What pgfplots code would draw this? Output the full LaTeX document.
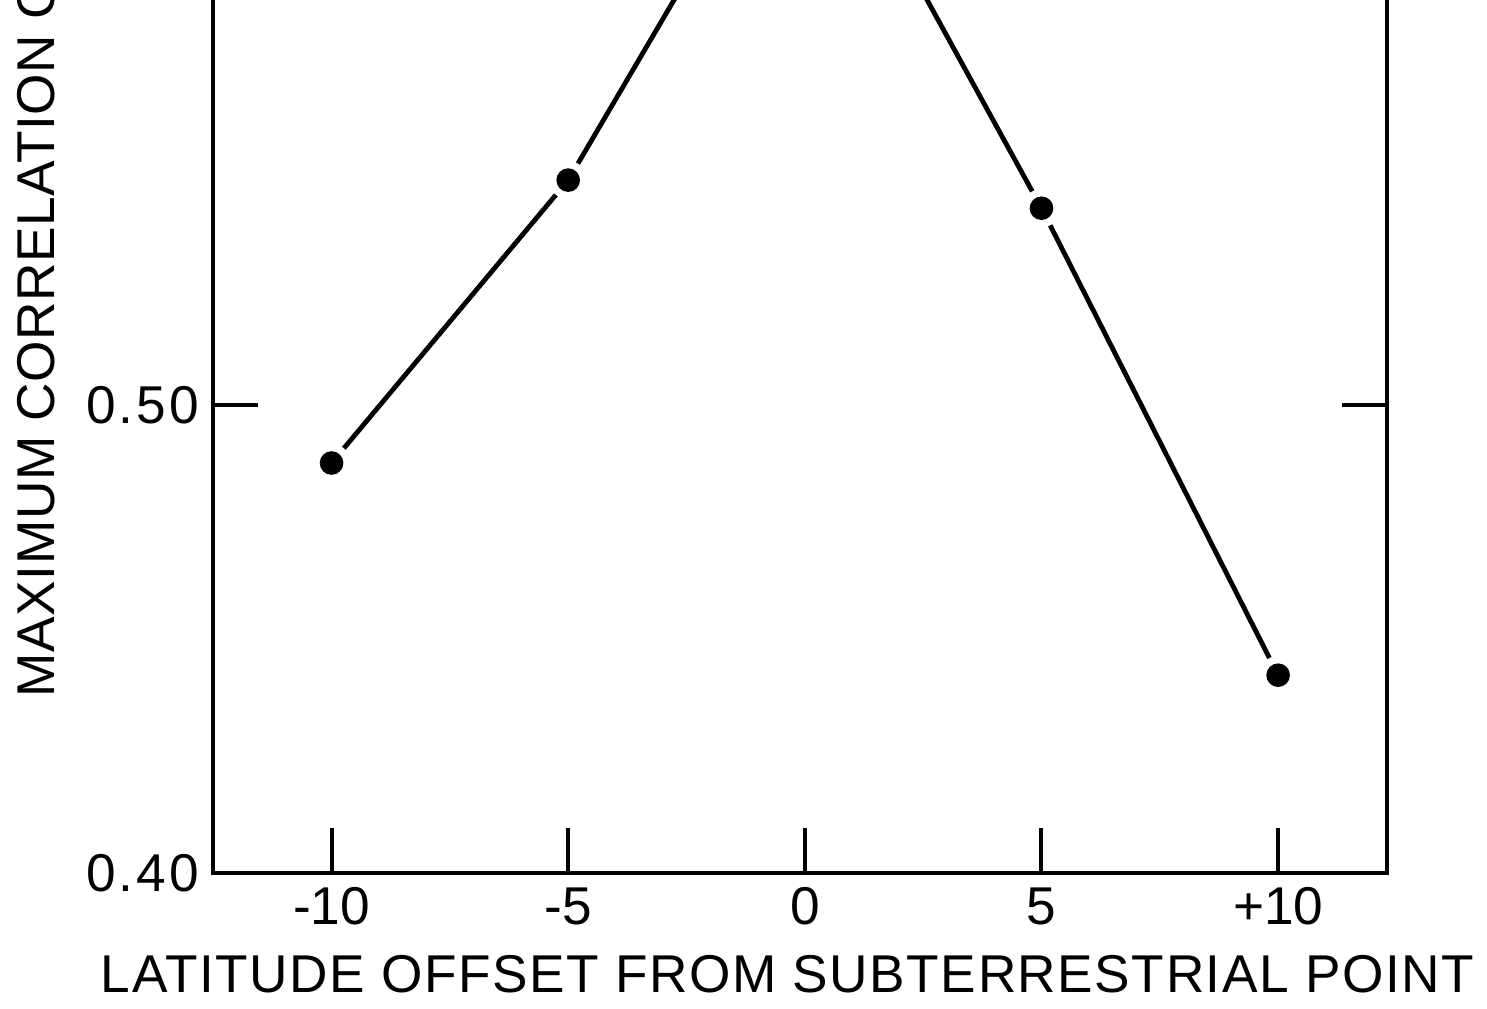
\documentclass[border=0pt]{standalone}
\usepackage{pgfplots}
\pgfplotsset{compat=1.18}
\usepackage{fontspec}
\setmainfont{Liberation Sans}
\newfontfamily\xlblfont[LetterSpace=2.9]{Liberation Sans}
\newfontfamily\ylblfont[LetterSpace=1.1]{Liberation Sans}
\newfontfamily\yticfont[LetterSpace=6]{Liberation Sans}
\pgfplotstableread{
x y
-10 0.4876
-5 0.5480
0 0.6340
5 0.5420
10 0.4423
}\datatab
\begin{document}
\begin{tikzpicture}
\begin{axis}[
  at={(0,0)}, anchor=south west,
  scale only axis, width=293.4bp, height=304.4bp,
  xmin=-12.5, xmax=12.3, ymin=0.40, ymax=0.66,
  xtick={-10,-5,0,5,10}, xticklabels={-10,-5,0,5,+10},
  ytick={0.4,0.5,0.6}, yticklabels={0.40,0.50,{}},
  tick align=inside, major tick length=11.25bp,
  tick style={black, line width=1bp},
  axis line style={line width=1bp},
  xticklabel style={font=\fontsize{13.3bp}{16bp}\selectfont},
  yticklabel style={font=\yticfont\fontsize{13.3bp}{16bp}\selectfont},
]
\addplot[black, line width=1.2bp] table[x=x,y=y] {\datatab};
\addplot[only marks, mark=*, mark size=4.6bp, white, mark options={draw=none, fill=white}] table[x=x,y=y] {\datatab};
\addplot[only marks, mark=*, mark size=2.75bp, black, mark options={fill=black}] table[x=x,y=y] {\datatab};
\end{axis}
\node[anchor=base, inner sep=0] at (143.55bp,-29.7bp) {\xlblfont\fontsize{13.3bp}{16bp}\selectfont LATITUDE OFFSET FROM SUBTERRESTRIAL POINT};
\node[anchor=base west, rotate=90, inner sep=0] at (-39.6bp,43.8bp) {\ylblfont\fontsize{13.3bp}{16bp}\selectfont MAXIMUM CORRELATION COEFFICIENT};
\pgfresetboundingbox
\useasboundingbox (-53.3bp,-33.7bp) rectangle (318.4bp,218.3bp);
\end{tikzpicture}
\end{document}
